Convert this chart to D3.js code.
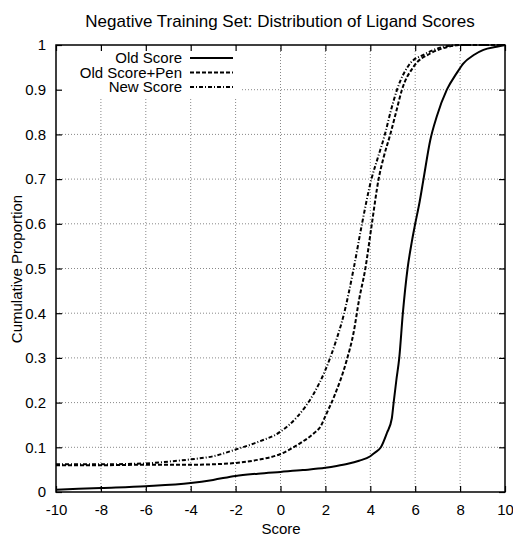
<!DOCTYPE html>
<html>
<head>
<meta charset="utf-8">
<title>Negative Training Set: Distribution of Ligand Scores</title>
<script src="https://d3js.org/d3.v7.min.js"></script>
<style>
  body { margin: 0; background: #fff; }
  text { font-family: "Liberation Sans", Arial, Helvetica, sans-serif; fill: #000; }
</style>
</head>
<body>
<svg id="chart" width="513" height="536"></svg>
<script>
// values
var oldScoreX = [-10, -8, -6, -4, -3, -2, -1, 0, 1, 2, 2.5, 3, 3.5, 4, 4.2, 4.47, 4.74, 4.96, 5.04, 5.16, 5.29, 5.45, 5.66, 5.85, 6.0, 6.2, 6.37, 6.67, 6.96, 7.41, 7.85, 8.15, 8.59, 9.04, 9.63, 10];
var oldScoreY = [0.005, 0.009, 0.013, 0.02, 0.027, 0.036, 0.041, 0.045, 0.049, 0.054, 0.058, 0.063, 0.07, 0.08, 0.088, 0.1, 0.132, 0.165, 0.2, 0.25, 0.3, 0.4, 0.5, 0.56, 0.6, 0.65, 0.7, 0.787, 0.84, 0.9, 0.937, 0.959, 0.977, 0.989, 0.996, 1.0];

var penScoreX = [-10, -8, -6, -4, -3, -2, -1, 0, 0.9, 1.5, 1.8, 2.0, 2.4, 2.95, 3.25, 3.5, 3.78, 4.07, 4.37, 4.6, 4.89, 5.15, 5.41, 5.92, 6.67, 7.4, 8.0, 10];
var penScoreY = [0.06, 0.06, 0.061, 0.061, 0.062, 0.065, 0.072, 0.085, 0.11, 0.132, 0.148, 0.17, 0.215, 0.295, 0.355, 0.43, 0.5, 0.6, 0.7, 0.75, 0.8, 0.85, 0.9, 0.951, 0.981, 0.995, 1.0, 1.0];

var newScoreX = [-10, -8, -6, -5, -4, -3, -2, -1, 0, 0.74, 1.48, 2.0, 2.44, 2.81, 3.26, 3.63, 4.05, 4.35, 4.65, 4.9, 5.19, 5.78, 6.37, 7.26, 8.0, 10];
var newScoreY = [0.062, 0.062, 0.064, 0.068, 0.073, 0.08, 0.095, 0.112, 0.135, 0.168, 0.22, 0.273, 0.333, 0.395, 0.5, 0.6, 0.7, 0.75, 0.8, 0.85, 0.9, 0.959, 0.978, 0.996, 1.0, 1.0];

var seriesNames = ["Old Score", "Old Score+Pen", "New Score"];
var seriesDash = ["none", "4,2", "4,2,1,2"];

var xTicks = [-10, -8, -6, -4, -2, 0, 2, 4, 6, 8, 10];
var yTicks = [0, 0.1, 0.2, 0.3, 0.4, 0.5, 0.6, 0.7, 0.8, 0.9, 1];

var svg = d3.select("#chart");
var plotLeft = 56, plotRight = 505, plotTop = 45, plotBottom = 492;

var x = d3.scaleLinear().domain([-10, 10]).range([plotLeft, plotRight]);
var y = d3.scaleLinear().domain([0, 1]).range([plotBottom, plotTop]);

// title
svg.append("text")
  .attr("x", 280).attr("y", 27)
  .attr("text-anchor", "middle")
  .style("font-size", "17px")
  .text("Negative Training Set: Distribution of Ligand Scores");

// grid
svg.append("g")
  .selectAll("line")
  .data(xTicks.slice(1, -1))
  .enter().append("line")
  .attr("x1", d => x(d)).attr("x2", d => x(d))
  .attr("y1", plotTop).attr("y2", plotBottom)
  .attr("stroke", "#888").attr("stroke-width", 1)
  .attr("stroke-dasharray", "1,2");

svg.append("g")
  .selectAll("line")
  .data(yTicks.slice(1, -1))
  .enter().append("line")
  .attr("x1", plotLeft).attr("x2", plotRight)
  .attr("y1", d => y(d)).attr("y2", d => y(d))
  .attr("stroke", "#888").attr("stroke-width", 1)
  .attr("stroke-dasharray", "1,2");

// key area hides the grid
svg.append("rect")
  .attr("x", plotLeft + 1).attr("y", plotTop + 1)
  .attr("width", 184).attr("height", 51)
  .attr("fill", "#fff");

// axes, ticks inward, mirrored
var bottomAxis = d3.axisBottom(x).tickValues(xTicks).tickSize(-6).tickPadding(12).tickFormat(d => String(d));
var leftAxis = d3.axisLeft(y).tickValues(yTicks).tickSize(-6).tickPadding(10).tickFormat(d => d === 0 || d === 1 ? String(d) : d.toFixed(1));

var gx = svg.append("g").attr("transform", "translate(0," + plotBottom + ")").call(bottomAxis);
var gy = svg.append("g").attr("transform", "translate(" + plotLeft + ",0)").call(leftAxis);
var gxt = svg.append("g").attr("transform", "translate(0," + plotTop + ")").call(d3.axisTop(x).tickValues(xTicks).tickSize(-6).tickFormat(""));
var gyr = svg.append("g").attr("transform", "translate(" + plotRight + ",0)").call(d3.axisRight(y).tickValues(yTicks).tickSize(-6).tickFormat(""));

[gx, gy, gxt, gyr].forEach(function(g) {
  g.select(".domain").remove();
  g.selectAll(".tick line").attr("stroke", "#000").attr("stroke-width", 1.2);
  g.selectAll(".tick text").style("font-size", "15px").style("font-family", "'Liberation Sans', Arial, sans-serif").attr("fill", "#000");
});

svg.append("rect")
  .attr("x", plotLeft).attr("y", plotTop)
  .attr("width", plotRight - plotLeft).attr("height", plotBottom - plotTop)
  .attr("fill", "none").attr("stroke", "#000").attr("stroke-width", 1.5);

// axis labels
svg.append("text")
  .attr("x", 281).attr("y", 534)
  .attr("text-anchor", "middle")
  .style("font-size", "15px")
  .text("Score");

svg.append("text")
  .attr("transform", "translate(22,269) rotate(-90)")
  .attr("text-anchor", "middle")
  .style("font-size", "15px")
  .text("Cumulative Proportion");

// curves
var line = d3.line().x(d => x(d[0])).y(d => y(d[1])).curve(d3.curveMonotoneX);
var allX = [oldScoreX, penScoreX, newScoreX];
var allY = [oldScoreY, penScoreY, newScoreY];

svg.append("defs").append("clipPath").attr("id", "plotclip")
  .append("rect").attr("x", plotLeft).attr("y", plotTop - 1).attr("width", plotRight - plotLeft).attr("height", plotBottom - plotTop + 1);

allX.forEach(function(xs, i) {
  var pts = xs.map((v, j) => [v, allY[i][j]]);
  svg.append("path")
    .datum(pts)
    .attr("clip-path", "url(#plotclip)")
    .attr("d", line)
    .attr("fill", "none")
    .attr("stroke", "#000")
    .attr("stroke-width", 2)
    .attr("stroke-dasharray", seriesDash[i]);
});

// key
var key = svg.append("g");
seriesNames.forEach(function(name, i) {
  var ky = 58 + i * 14.5;
  key.append("text")
    .attr("x", 182).attr("y", ky)
    .attr("dy", "0.35em")
    .attr("text-anchor", "end")
    .style("font-size", "15px")
    .text(name);
  key.append("line")
    .attr("x1", 190).attr("x2", 233)
    .attr("y1", ky).attr("y2", ky)
    .attr("stroke", "#000").attr("stroke-width", 2)
    .attr("stroke-dasharray", seriesDash[i]);
});
</script>
</body>
</html>
